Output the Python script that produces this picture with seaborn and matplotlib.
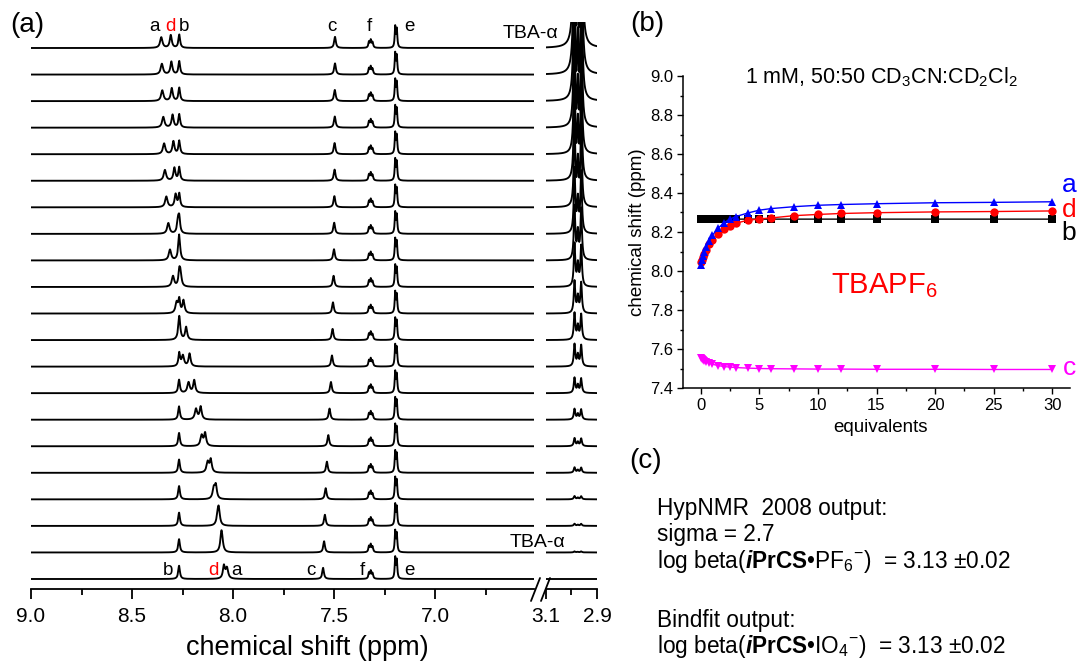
import numpy as np
import pandas as pd
import matplotlib
matplotlib.use("Agg")
import matplotlib.pyplot as plt
import seaborn as sns
from matplotlib.lines import Line2D

# ---------------- data ----------------
equiv = [0, 0.1, 0.2, 0.3, 0.5, 0.75, 1, 1.5, 2, 2.5, 3, 4, 5, 6, 8, 10, 12, 15, 20, 25, 30]
shift_a = [8.030, 8.055, 8.075, 8.095, 8.125, 8.155, 8.183, 8.220, 8.248, 8.266, 8.279,
           8.297, 8.312, 8.320, 8.330, 8.337, 8.341, 8.345, 8.350, 8.352, 8.355]
shift_d = [8.045, 8.058, 8.070, 8.085, 8.110, 8.138, 8.160, 8.192, 8.215, 8.232, 8.245,
           8.260, 8.267, 8.272, 8.284, 8.290, 8.295, 8.299, 8.303, 8.305, 8.308]
shift_b = [8.267, 8.267, 8.267, 8.267, 8.267, 8.267, 8.267, 8.267, 8.266, 8.266, 8.266,
           8.266, 8.266, 8.266, 8.266, 8.266, 8.266, 8.266, 8.266, 8.266, 8.266]
shift_c = [7.554, 7.549, 7.545, 7.541, 7.535, 7.528, 7.522, 7.515, 7.510, 7.507, 7.505,
           7.502, 7.500, 7.499, 7.498, 7.497, 7.497, 7.496, 7.496, 7.495, 7.495]
# TBA-alpha signal height in each spectrum (trace units)
tba_height = [0.0, 0.04, 0.08, 0.12, 0.2, 0.3, 0.4, 0.57, 0.83, 1.0, 1.2,
              1.6, 2.0, 2.4, 3.2, 4.0, 4.8, 6.0, 8.0, 10.0, 12.0]
# constant signals
peak_e = [7.197, 7.189]
height_e = [0.78, 0.68]
peak_f = [7.327, 7.318, 7.309]
height_f = [0.22, 0.28, 0.20]
tba_lines = [2.988, 2.975, 2.962]
tba_rel = [1.0, 0.5, 0.95]
height_a, height_d, height_b, height_c = 0.40, 0.48, 0.50, 0.42

proton_labels = ["b", "c", "d", "a"]
proton_colors = {"a": "#0000FF", "d": "#FF0000", "b": "#000000", "c": "#FF00FF"}
proton_markers = {"a": "^", "d": "o", "b": "s", "c": "v"}

# ---------------- style ----------------
sns.set_theme(style="ticks")
plt.rcParams["font.family"] = ["Liberation Sans", "DejaVu Sans"]
plt.rcParams.update({
    "text.color": "black", "axes.labelcolor": "black",
    "xtick.color": "black", "ytick.color": "black", "axes.edgecolor": "black",
    "mathtext.fontset": "custom", "mathtext.rm": "Liberation Sans",
    "mathtext.it": "Liberation Sans:italic", "mathtext.bf": "Liberation Sans:bold",
    "mathtext.default": "regular",
})
try:
    plt.rcParams["mathtext.bfit"] = "Liberation Sans:italic:bold"
except Exception:
    pass
bfit_i = r"\mathbf{i}"
try:
    from matplotlib.mathtext import MathTextParser
    MathTextParser("path").parse(r"$\mathbfit{i}$")
    bfit_i = r"\mathbfit{i}"
except Exception:
    pass

W, H = 1078, 670
fig = plt.figure(figsize=(W / 100, H / 100), dpi=100)


def fx(px):
    return px / W


def fy(py):
    return 1 - py / H


def ftext(x, y, s, **kw):
    kw.setdefault("ha", "center")
    kw.setdefault("va", "baseline")
    fig.text(fx(x), fy(y), s, **kw)


def lor(x, x0, h, w):
    return h / (1.0 + ((x - x0) / w) ** 2)


# ---------------- spectra (panel a) ----------------
ppm_left = np.arange(6.51, 9.0 + 1e-9, 0.0005)
ppm_right = np.arange(2.9, 3.1 + 1e-9, 0.0005)
rowsL, rowsR = [], []
for i in range(len(equiv)):
    y = np.full_like(ppm_left, float(i))
    y += lor(ppm_left, shift_a[i], height_a, 0.007)
    y += lor(ppm_left, shift_d[i], height_d, 0.006)
    y += lor(ppm_left, shift_b[i], height_b, 0.005)
    y += lor(ppm_left, shift_c[i], height_c, 0.005)
    for p, h in zip(peak_e, height_e):
        y += lor(ppm_left, p, h, 0.003)
    for p, h in zip(peak_f, height_f):
        y += lor(ppm_left, p, h, 0.0035)
    rowsL.append(pd.DataFrame({"ppm": ppm_left, "y": y, "trace": i}))
    yr = np.full_like(ppm_right, float(i))
    for p, r in zip(tba_lines, tba_rel):
        yr += lor(ppm_right, p, tba_height[i] * r, 0.0035)
    rowsR.append(pd.DataFrame({"ppm": ppm_right, "y": yr, "trace": i}))
dfL = pd.concat(rowsL, ignore_index=True)
dfR = pd.concat(rowsR, ignore_index=True)

ybot, ytop = -10 / 26.55, (579 - 22) / 26.55
axL = fig.add_axes([fx(31), fy(589), fx(503), (589 - 22) / H])
axR = fig.add_axes([fx(546), fy(589), fx(51), (589 - 22) / H])
sns.lineplot(data=dfL, x="ppm", y="y", units="trace", estimator=None, sort=False,
             color="black", lw=1.35, ax=axL, legend=False)
sns.lineplot(data=dfR, x="ppm", y="y", units="trace", estimator=None, sort=False,
             color="black", lw=1.35, ax=axR, legend=False)
axL.set_xlim(9.0, 6.51)
axR.set_xlim(3.1, 2.9)
for ax in (axL, axR):
    ax.set_ylim(ybot, ytop)
    ax.set_xlabel("")
    ax.set_ylabel("")
    ax.set_yticks([])
    for s in ("left", "right", "top"):
        ax.spines[s].set_visible(False)
    ax.spines["bottom"].set_linewidth(1.3)
    ax.tick_params(axis="x", which="major", direction="out", length=7, width=1.3,
                   labelsize=15, pad=6)
    ax.tick_params(axis="x", which="minor", direction="out", length=4.5, width=1.3)
axL.set_xticks([9.0, 8.5, 8.0, 7.5, 7.0])
axL.set_xticklabels(["9.0", "8.5", "8.0", "7.5", "7.0"])
axL.set_xticks([8.75, 8.25, 7.75, 7.25, 6.75], minor=True)
axR.set_xticks([3.1, 2.9])
axR.set_xticklabels(["3.1", "2.9"])
axR.set_xticks([3.0], minor=True)

# axis break marks
for x0 in (531, 541):
    fig.add_artist(Line2D([fx(x0), fx(x0 + 9)], [fy(601), fy(578)],
                          color="black", lw=1.3))

ftext(307, 648, "chemical shift (ppm)", fontsize=19.5, va="center")
ftext(27, 25, "(a)", fontsize=20, va="center")

for x, s, c in [(154, "a", "black"), (170, "d", "red"), (184, "b", "black"),
                (332, "c", "black"), (369, "f", "black"), (409, "e", "black")]:
    ftext(x, 31, s, fontsize=13.5, color=c)
for x, s, c in [(168, "b", "black"), (213, "d", "red"), (237, "a", "black"),
                (311, "c", "black"), (362, "f", "black"), (409, "e", "black")]:
    ftext(x, 575, s, fontsize=13.5, color=c)
ftext(503, 38, "TBA-α", fontsize=14, ha="left")
ftext(510, 547, "TBA-α", fontsize=14, ha="left")

# ---------------- titration (panel b) ----------------
rows = []
for lab, vals in [("b", shift_b), ("c", shift_c), ("d", shift_d), ("a", shift_a)]:
    rows.append(pd.DataFrame({"equiv": equiv, "shift": vals, "proton": lab}))
dfB = pd.concat(rows, ignore_index=True)

axB = fig.add_axes([fx(683), fy(388), fx(387), 312 / H])
sns.lineplot(data=dfB, x="equiv", y="shift", hue="proton", style="proton",
             hue_order=proton_labels, style_order=proton_labels,
             palette=proton_colors, markers=proton_markers, dashes=False,
             markersize=6, markeredgewidth=0, lw=1.0, legend=False, ax=axB)
axB.set_xlim(-1.5, 31.5)
axB.set_ylim(7.4, 9.0)
axB.set_xlabel("")
axB.set_ylabel("")
axB.set_yticks(np.round(np.arange(7.4, 9.01, 0.2), 1))
axB.set_yticklabels([f"{v:.1f}" for v in np.arange(7.4, 9.01, 0.2)])
axB.set_yticks(np.round(np.arange(7.5, 9.0, 0.2), 1), minor=True)
axB.set_xticks([0, 5, 10, 15, 20, 25, 30])
axB.set_xticks([2.5, 7.5, 12.5, 17.5, 22.5, 27.5], minor=True)
for s in ("right", "top"):
    axB.spines[s].set_visible(False)
for s in ("left", "bottom"):
    axB.spines[s].set_linewidth(1.1)
axB.tick_params(which="major", direction="out", length=4, width=1.0, labelsize=12, pad=3)
axB.tick_params(which="minor", direction="out", length=2.5, width=1.0)

ftext(647, 24, "(b)", fontsize=20, va="center")
ftext(882, 83.5, r"1 mM, 50:50 CD$_3$CN:CD$_2$Cl$_2$", fontsize=15.5)
ftext(638, 232, "chemical shift (ppm)", fontsize=13.5, rotation=90, va="center")
ftext(881, 428, "equivalents", fontsize=13.5, va="center")
ftext(884, 293, r"TBAPF$_6$", fontsize=21, color="red")
for s, yb in [("a", 192), ("d", 217), ("b", 240), ("c", 375)]:
    ftext(1069, yb, s, fontsize=19, color=proton_colors[s])

# ---------------- text (panel c) ----------------
ftext(646, 461.5, "(c)", fontsize=20, va="center")
lines_c = [
    (515, "HypNMR  2008 output:"),
    (541.5, "sigma = 2.7"),
    (568, r"log beta($" + bfit_i + r"\mathbf{PrCS}$•PF$_6$$^{-}$)  = 3.13 ±0.02"),
    (627, "Bindfit output:"),
    (653, r"log beta($" + bfit_i + r"\mathbf{PrCS}$•IO$_4$$^{-}$)  = 3.13 ±0.02"),
]
for yb, s in lines_c:
    ftext(657, yb, s, fontsize=16.3, ha="left")

fig.savefig("out.png", dpi=100)
